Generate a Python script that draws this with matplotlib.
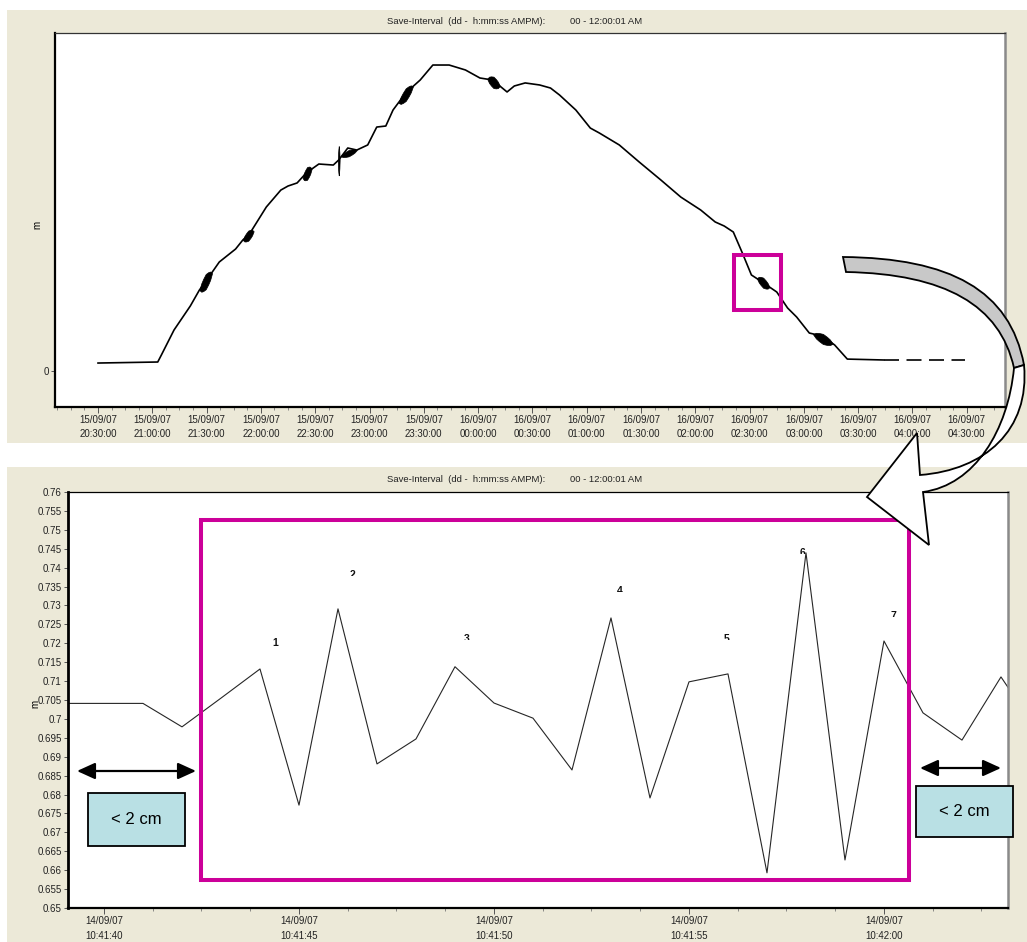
import numpy as np
import matplotlib
matplotlib.use("Agg")
import matplotlib.pyplot as plt
import matplotlib.dates as mdates
from matplotlib.patches import Rectangle, PathPatch
from matplotlib.path import Path
from matplotlib.ticker import AutoMinorLocator, MultipleLocator, FuncFormatter
from matplotlib.transforms import Affine2D, Bbox

plt.rcParams["font.family"] = ["Liberation Sans", "DejaVu Sans"]

W, H = 1027, 942
BEIGE = "#ECE9D8"
MAGENTA = "#CC0099"
BOX_BLUE = "#B9E0E4"

# full tide, 15-16/09/07 (m)
tide_time = [
    "2007-09-15T20:30", "2007-09-15T21:03", "2007-09-15T21:05", "2007-09-15T21:12",
    "2007-09-15T21:21", "2007-09-15T21:26", "2007-09-15T21:32", "2007-09-15T21:37",
    "2007-09-15T21:46", "2007-09-15T21:50", "2007-09-15T21:54", "2007-09-15T22:03",
    "2007-09-15T22:11", "2007-09-15T22:15", "2007-09-15T22:20", "2007-09-15T22:25",
    "2007-09-15T22:32", "2007-09-15T22:40", "2007-09-15T22:43", "2007-09-15T22:48",
    "2007-09-15T22:53", "2007-09-15T22:59", "2007-09-15T23:04", "2007-09-15T23:09",
    "2007-09-15T23:13", "2007-09-15T23:20", "2007-09-15T23:28", "2007-09-15T23:35",
    "2007-09-15T23:44", "2007-09-15T23:53", "2007-09-16T00:01", "2007-09-16T00:08",
    "2007-09-16T00:12", "2007-09-16T00:16", "2007-09-16T00:20", "2007-09-16T00:26",
    "2007-09-16T00:34", "2007-09-16T00:40", "2007-09-16T00:45", "2007-09-16T00:54",
    "2007-09-16T01:02", "2007-09-16T01:07", "2007-09-16T01:18", "2007-09-16T01:29",
    "2007-09-16T01:41", "2007-09-16T01:52", "2007-09-16T02:03", "2007-09-16T02:11",
    "2007-09-16T02:16", "2007-09-16T02:21", "2007-09-16T02:26", "2007-09-16T02:31",
    "2007-09-16T02:37", "2007-09-16T02:45", "2007-09-16T02:51", "2007-09-16T02:56",
    "2007-09-16T03:03", "2007-09-16T03:10", "2007-09-16T03:17", "2007-09-16T03:24",
    "2007-09-16T03:44",
]
tide_level = [
    0.063, 0.071, 0.126, 0.323, 0.512, 0.637, 0.756, 0.858, 0.960, 1.031,
    1.086, 1.291, 1.424, 1.456, 1.480, 1.558, 1.629, 1.621, 1.661, 1.755,
    1.739, 1.779, 1.920, 1.928, 2.054, 2.188, 2.290, 2.408, 2.408, 2.369,
    2.306, 2.290, 2.243, 2.196, 2.243, 2.267, 2.251, 2.227, 2.172, 2.054,
    1.912, 1.873, 1.779, 1.645, 1.503, 1.369, 1.267, 1.173, 1.141, 1.094,
    0.929, 0.756, 0.700, 0.622, 0.496, 0.425, 0.299, 0.276, 0.205, 0.094,
    0.087,
]
# sensor dry at low water, record with gaps
tail_time = ["2007-09-16T03:44", "2007-09-16T04:29"]
tail_level = [0.087, 0.087]

# bursts of wave noise on the record
burst_start = ["2007-09-15T21:26", "2007-09-15T21:50", "2007-09-15T22:23",
               "2007-09-15T22:42:30", "2007-09-15T22:44", "2007-09-15T23:16",
               "2007-09-16T00:05", "2007-09-16T02:34", "2007-09-16T03:05"]
burst_end = ["2007-09-15T21:33", "2007-09-15T21:56", "2007-09-15T22:28",
             "2007-09-15T22:43:30", "2007-09-15T22:53", "2007-09-15T23:24",
             "2007-09-16T00:12", "2007-09-16T02:41", "2007-09-16T03:16"]
burst_from_level = [0.637, 1.031, 1.520, 1.650, 1.690, 2.110, 2.300, 0.730, 0.290]
burst_to_level = [0.770, 1.100, 1.590, 1.660, 1.739, 2.240, 2.243, 0.660, 0.215]
burst_amp = [0.060, 0.040, 0.050, 0.115, 0.025, 0.050, 0.045, 0.040, 0.040]

# one-second samples from 14/09/07 10:41:39
detail_start = "2007-09-14T10:41:39"
detail_level = [
    0.7041, 0.7041, 0.7041, 0.6979, 0.7055, 0.7132, 0.6772, 0.7291, 0.6881,
    0.6947, 0.7138, 0.7042, 0.7002, 0.6865, 0.7267, 0.6791, 0.7098, 0.7119,
    0.6593, 0.7439, 0.6627, 0.7206, 0.7016, 0.6944, 0.7111, 0.6958,
]
peak_label = ["1", "2", "3", "4", "5", "6", "7"]
peak_offset_s = [4.38, 6.36, 9.31, 13.23, 15.97, 17.92, 20.23]
peak_level = [0.7214, 0.7394, 0.7225, 0.7352, 0.7225, 0.7452, 0.7286]
peak_visible_px = [11, 6, 6, 6.5, 6, 6, 6]

zoom_box_time = ["2007-09-16T02:21:24", "2007-09-16T02:47:36"]
zoom_box_level = [0.48, 0.913]
detail_box_s = [2.49, 20.65]
detail_box_level = [0.6574, 0.7526]


def fig_px(x, y):
    return x / W, 1 - y / H


def to_num(strings):
    return mdates.date2num(np.array(strings, dtype="datetime64[s]"))


fig = plt.figure(figsize=(W / 100, H / 100), dpi=100, facecolor="white")
px_tr = Affine2D().scale(1 / W, -1 / H).translate(0, 1) + fig.transFigure

# window backgrounds
for y0, y1 in [(10, 443), (467, 942)]:
    fig.patches.append(Rectangle((7, y0), W - 7, y1 - y0, transform=px_tr,
                                 facecolor=BEIGE, edgecolor="none", zorder=-5))

for y in (21, 479):
    fig.text(*fig_px(545, y), "Save-Interval  (dd -  h:mm:ss AMPM):", ha="right",
             va="center", fontsize=6.8, color="#222222")
    fig.text(*fig_px(570, y), "00 - 12:00:01 AM", ha="left", va="center",
             fontsize=6.8, color="#222222")

fmt = mdates.DateFormatter("%d/%m/%y\n%H:%M:%S")


def style_axes(ax, left_w):
    ax.set_facecolor("white")
    ax.spines["left"].set_linewidth(left_w)
    ax.spines["bottom"].set_linewidth(1.6)
    ax.spines["top"].set_linewidth(0.9)
    ax.spines["top"].set_color("#333333")
    ax.spines["right"].set_linewidth(1.8)
    ax.spines["right"].set_color("#8A8A8A")
    ax.xaxis.set_major_formatter(fmt)
    ax.xaxis.set_minor_locator(AutoMinorLocator(4))
    ax.tick_params(axis="x", which="major", length=4, width=0.7, color="#555555",
                   labelsize=7, pad=2, labelcolor="#222222")
    ax.tick_params(axis="x", which="minor", length=2.5, width=0.6, color="#777777")
    ax.tick_params(axis="y", which="major", length=3, width=0.7, color="#555555",
                   labelsize=7, pad=1.5, labelcolor="#222222")


# ---- whole tide ----
ax1 = fig.add_axes([55 / W, 1 - 407 / H, 950 / W, 374 / H])
style_axes(ax1, 1.6)
t_tide = to_num(tide_time)
ax1.plot(t_tide, tide_level, color="black", lw=1.2, solid_joinstyle="round")
ax1.plot(to_num(tail_time), tail_level, color="black", lw=1.2, dashes=(9, 4.5))

# noise bursts drawn as ragged bands along the local trend
frac = np.array([0.0, 0.15, 0.3, 0.5, 0.7, 0.85, 1.0])
spread = np.array([0.0, 0.55, 0.8, 1.0, 0.8, 0.55, 0.0])
for s, e, a, b, amp in zip(to_num(burst_start), to_num(burst_end),
                           burst_from_level, burst_to_level, burst_amp):
    tt = s + frac * (e - s)
    mid = a + frac * (b - a)
    ax1.fill_between(tt, mid - amp * spread, mid + amp * spread,
                     color="black", lw=0.5)

bt = to_num(zoom_box_time)
ax1.add_patch(Rectangle((bt[0], zoom_box_level[0]), bt[1] - bt[0],
                        zoom_box_level[1] - zoom_box_level[0], fill=False,
                        edgecolor=MAGENTA, lw=2.9, zorder=4))
ax1.set_xlim(to_num(["2007-09-15T20:06:14", "2007-09-16T04:51:07"]))
ax1.set_ylim(-0.283, 2.66)
ax1.set_yticks([0])
ax1.xaxis.set_major_locator(mdates.MinuteLocator(byminute=[0, 30]))
fig.text(*fig_px(37, 225), "m", rotation=90, ha="center", va="center", fontsize=7)

# ---- zoomed one-second record ----
ax2 = fig.add_axes([68 / W, 1 - 908 / H, 940 / W, 416 / H])
style_axes(ax2, 2.0)
ax2.spines["top"].set_color("black")
t0 = np.datetime64("2007-09-14T10:41:40")
t_detail = mdates.date2num(np.datetime64(detail_start) +
                           np.arange(len(detail_level)).astype("timedelta64[s]"))
ax2.plot(t_detail, detail_level, color="#262626", lw=0.8)
ax2.set_xlim(mdates.date2num(t0 + np.array([-923, 23180]).astype("timedelta64[ms]")))
ax2.set_ylim(0.65, 0.76)
ax2.yaxis.set_major_locator(MultipleLocator(0.005))
ax2.yaxis.set_major_formatter(FuncFormatter(lambda v, _: f"{round(v, 3):g}"))
ax2.xaxis.set_major_locator(mdates.SecondLocator(bysecond=range(0, 60, 5)))
db = mdates.date2num(t0 + (np.array(detail_box_s) * 1000).astype("timedelta64[ms]"))
ax2.add_patch(Rectangle((db[0], detail_box_level[0]), db[1] - db[0],
                        detail_box_level[1] - detail_box_level[0], fill=False,
                        edgecolor=MAGENTA, lw=2.9, zorder=4))
fig.text(*fig_px(35, 704), "m", rotation=90, ha="center", va="center", fontsize=7)

# tick label line spacing
fig.canvas.draw()
for ax, ls in ((ax1, 1.45), (ax2, 1.6)):
    for lbl in ax.get_xticklabels():
        lbl.set_linespacing(ls)

# peak numbers, only the upper part of each glyph shows
pk_t = mdates.date2num(t0 + (np.array(peak_offset_s) * 1000).astype("timedelta64[ms]"))
for lab, tx, lv, vis in zip(peak_label, pk_t, peak_level, peak_visible_px):
    txt = ax2.text(tx, lv, lab, ha="center", va="top", fontsize=7.5,
                   fontweight="bold", color="#111111", zorder=5)
    dx, dy = ax2.transData.transform((tx, lv))
    txt.set_clip_box(Bbox.from_extents(dx - 12, dy - vis, dx + 12, dy + 4))
    txt.set_clip_on(True)

# "< 2 cm" spans either side of the box
for (xa, xb, ya), (bx0, by0, bx1, by1) in [((77, 196, 771), (88, 793, 185, 846)),
                                            ((920, 1001, 768), (916, 786, 1013, 837))]:
    fig.patches.append(Rectangle((bx0, by0), bx1 - bx0, by1 - by0, transform=px_tr,
                                 facecolor=BOX_BLUE, edgecolor="black", lw=1.3,
                                 zorder=6))
    fig.text((bx0 + bx1) / 2 / W, 1 - (by0 + by1) / 2 / H, "< 2 cm", ha="center",
             va="center", fontsize=12, zorder=7)
    ax2.annotate("", xy=fig_px(xb, ya), xytext=fig_px(xa, ya),
                 xycoords="figure fraction", textcoords="figure fraction",
                 arrowprops=dict(arrowstyle="<|-|>,head_length=1.1,head_width=0.5",
                                 mutation_scale=10, lw=1.6, color="black",
                                 shrinkA=0, shrinkB=0), zorder=7)

# curved arrow from the small box down to the detail plot
C4, L2 = Path.CURVE4, Path.LINETO
grey_verts = [(843, 257), (950, 258), (1010, 290), (1024, 365), (1014, 368),
              (1000, 305), (945, 274), (846, 272), (843, 257)]
grey_codes = [Path.MOVETO, C4, C4, C4, L2, C4, C4, C4, Path.CLOSEPOLY]
white_verts = [(1024, 365), (1030, 430), (985, 470), (920, 475), (917, 433),
               (867, 497), (929, 545), (923, 492), (975, 485), (1008, 430),
               (1014, 368), (1024, 365)]
white_codes = [Path.MOVETO, C4, C4, C4, L2, L2, L2, L2, C4, C4, C4, Path.CLOSEPOLY]
for verts, codes, fc in ((grey_verts, grey_codes, "#C8C8C8"),
                         (white_verts, white_codes, "white")):
    patch = PathPatch(Path(verts, codes), transform=px_tr, facecolor=fc,
                      edgecolor="black", lw=1.3, zorder=8, joinstyle="miter")
    fig.patches.append(patch)

fig.savefig("out.png", dpi=100, facecolor="white")
